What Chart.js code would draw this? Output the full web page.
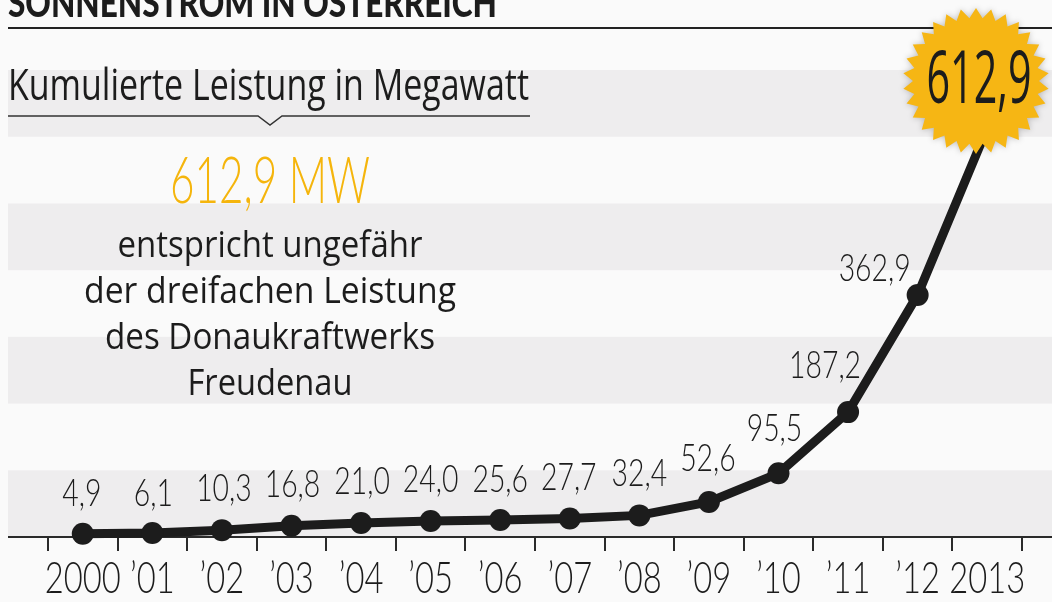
<!DOCTYPE html>
<html>
<head>
<meta charset="utf-8">
<title>Sonnenstrom in Österreich</title>
<script src="https://cdn.jsdelivr.net/npm/chart.js@4/dist/chart.umd.min.js"></script>
<style>
  html, body { margin: 0; padding: 0; background: #fafafa; }
  #wrap { position: relative; width: 1052px; height: 602px; }
</style>
</head>
<body>
<div id="wrap"><canvas id="chart" width="1052" height="602"></canvas></div>
<script>
// ── Data ────────────────────────────────────────────────────────────────
const years      = ['2000', '2001', '2002', '2003', '2004', '2005', '2006',
                    '2007', '2008', '2009', '2010', '2011', '2012', '2013'];
const yearTicks  = ['2000', '’01', '’02', '’03', '’04', '’05', '’06',
                    '’07', '’08', '’09', '’10', '’11', '’12', '2013'];
const capacityMW = [4.9, 6.1, 10.3, 16.8, 21.0, 24.0, 25.6,
                    27.7, 32.4, 52.6, 95.5, 187.2, 362.9, 612.9];

const headline     = 'SONNENSTROM IN ÖSTERREICH';
const subtitle     = 'Kumulierte Leistung in Megawatt';
const calloutValue = '612,9 MW';
const calloutLines = ['entspricht ungefähr', 'der dreifachen Leistung',
                      'des Donaukraftwerks', 'Freudenau'];

const bandStep = 100;   // MW per background band
const yMax     = 763;

// ── Style ───────────────────────────────────────────────────────────────
const INK    = '#1c1c1c';
const BAND   = '#eeedee';
const PAPER  = '#fafafa';
const YELLOW = '#f5b50c';
const FONT   = 'Lato, "Open Sans", sans-serif';
const TEXT   = '"Open Sans", Lato, sans-serif';

// where each value label sits relative to its point (dx, baseline dy)
const labelShift = [[-1, -28], [1, -27], [2, -29], [1, -29], [1, -29], [0, -29], [0, -28],
                    [-1, -29], [0, -29], [-1, -31], [-4, -32], [-23, -34], [-43, -14], null];

const fmt = v => v.toFixed(1).replace('.', ',');

// Draw text squeezed horizontally so it reads like the condensed face of the original
function squeezed(ctx, text, x, y, font, sx, align, color) {
  ctx.save();
  ctx.font = font;
  ctx.textAlign = align;
  ctx.textBaseline = 'alphabetic';
  ctx.fillStyle = color;
  ctx.translate(x, y);
  ctx.scale(sx, 1);
  ctx.fillText(text, 0, 0);
  ctx.restore();
}

function fitted(ctx, text, x, y, font, width, align, color) {
  ctx.save();
  ctx.font = font;
  const sx = width / ctx.measureText(text).width;
  ctx.restore();
  squeezed(ctx, text, x, y, font, sx, align, color);
}

// ── Plugins ─────────────────────────────────────────────────────────────

const backdrop = {
  id: 'backdrop',
  beforeDraw(chart) {
    const { ctx, width, scales: { y } } = chart;
    ctx.save();
    ctx.fillStyle = PAPER;
    ctx.fillRect(0, 0, width, chart.height);

    // alternating horizontal bands, every other 100 MW
    ctx.fillStyle = BAND;
    for (let v = 0; v < yMax - bandStep; v += bandStep * 2) {
      const top = y.getPixelForValue(v + bandStep);
      const bot = y.getPixelForValue(v);
      ctx.fillRect(8, top, width - 8, bot - top);
    }

    // headline + rule
    fitted(ctx, headline, 8, 17, `900 40px ${FONT}`, 489, 'left', INK);
    ctx.fillStyle = '#222';
    ctx.fillRect(8, 27, width - 8, 2);

    // subtitle with the little notch under it
    fitted(ctx, subtitle, 8, 100, `400 43px ${TEXT}`, 521, 'left', INK);
    ctx.strokeStyle = '#333';
    ctx.lineWidth = 1.5;
    ctx.beginPath();
    ctx.moveTo(8, 116);
    ctx.lineTo(258, 116);
    ctx.lineTo(270, 125);
    ctx.lineTo(282, 116);
    ctx.lineTo(530, 116);
    ctx.stroke();

    // callout text
    fitted(ctx, calloutValue, 270, 203, `300 66px ${FONT}`, 200, 'center', YELLOW);
    const widths = [305, 372, 330, 165];
    calloutLines.forEach((line, i) => {
      fitted(ctx, line, 270, 257 + i * 46, `400 36px ${TEXT}`, widths[i], 'center', INK);
    });

    // base line across the full width
    const y0 = y.getPixelForValue(0);
    ctx.fillStyle = '#2a2a2a';
    ctx.fillRect(8, y0 - 1, width - 8, 2);
    ctx.restore();
  },
};

const annotations = {
  id: 'annotations',
  afterDatasetsDraw(chart) {
    const { ctx, scales: { x } } = chart;
    const meta = chart.getDatasetMeta(0);

    // value labels
    ctx.save();
    ctx.font = `300 37px ${FONT}`;
    const labelSx = 72 / ctx.measureText('000,0').width;
    ctx.restore();
    meta.data.forEach((pt, i) => {
      const s = labelShift[i];
      if (!s) return;
      squeezed(ctx, fmt(capacityMW[i]), pt.x + s[0], pt.y + s[1],
               `300 37px ${FONT}`, labelSx, 'center', INK);
    });

    // x axis labels
    ctx.save();
    ctx.font = `300 43px ${FONT}`;
    const tickSx = 76 / ctx.measureText('2000').width;
    ctx.restore();
    yearTicks.forEach((t, i) => {
      squeezed(ctx, t, x.getPixelForValue(i), 593, `300 43px ${FONT}`, tickSx, 'center', INK);
    });

    // starburst for the latest value
    const cx = 976, cy = 81, rOut = 73, rIn = 63, spikes = 30;
    ctx.save();
    ctx.shadowColor = 'rgba(0,0,0,0.25)';
    ctx.shadowBlur = 6;
    ctx.fillStyle = '#f6b614';
    ctx.beginPath();
    for (let k = 0; k < spikes * 2; k++) {
      const r = k % 2 === 0 ? rOut : rIn;
      const a = -Math.PI / 2 + (k * Math.PI) / spikes;
      const px = cx + r * Math.cos(a);
      const py = cy + r * Math.sin(a);
      k === 0 ? ctx.moveTo(px, py) : ctx.lineTo(px, py);
    }
    ctx.closePath();
    ctx.fill();
    ctx.restore();

    const last = capacityMW.length - 1;
    fitted(ctx, fmt(capacityMW[last]), 979, 103, `400 74px ${TEXT}`, 105, 'center', INK);
  },
};

// ── Chart ───────────────────────────────────────────────────────────────

new Chart(document.getElementById('chart'), {
  type: 'line',
  data: {
    labels: years,
    datasets: [{
      data: capacityMW,
      borderColor: INK,
      borderWidth: 9,
      pointRadius: 11,
      pointHoverRadius: 11,
      pointBackgroundColor: INK,
      pointBorderWidth: 0,
      tension: 0,
      clip: false,
    }],
  },
  options: {
    responsive: false,
    animation: false,
    devicePixelRatio: 1,
    layout: { padding: { left: 48, right: 30, top: 28, bottom: 0 } },
    plugins: {
      legend: { display: false },
      tooltip: { enabled: false },
    },
    scales: {
      x: {
        offset: true,
        grid: {
          offset: true,
          drawOnChartArea: false,
          drawTicks: true,
          tickLength: 14,
          color: '#2a2a2a',
          lineWidth: 2,
        },
        border: { display: false },
        ticks: { display: false },
        afterFit: s => { s.height = 65; },
      },
      y: { display: false, min: 0, max: yMax },
    },
  },
  plugins: [backdrop, annotations],
});
</script>
</body>
</html>
